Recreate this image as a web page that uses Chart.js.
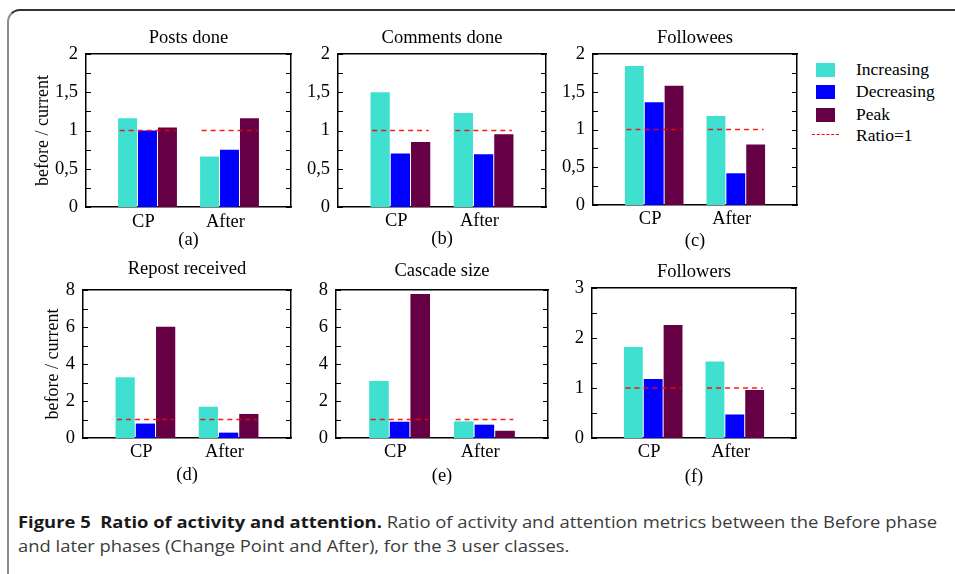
<!DOCTYPE html>
<html>
<head>
<meta charset="utf-8">
<script src="https://cdn.jsdelivr.net/npm/chart.js@4.4.1/dist/chart.umd.min.js"></script>
<style>
  body { margin: 0; background: #fff; }
  #fig { position: relative; width: 955px; height: 574px; overflow: hidden; font-family: "Liberation Serif", "Times New Roman", serif; }
  #frame { position: absolute; left: 7px; top: 9px; width: 1000px; height: 700px; border-top: 2px solid #333; border-left: 2px solid #8c8c8c; border-top-left-radius: 13px; }
  canvas { position: absolute; }
  .sw { position: absolute; width: 19px; height: 14px; }
  .lt { position: absolute; font-size: 17.5px; line-height: 20px; color: #000; white-space: nowrap; }
  .cap { position: absolute; left: 18px; font-family: "Open Sans", "Noto Sans", sans-serif; font-size: 16px; color: #3b3b3b; white-space: nowrap; transform-origin: 0 50%; line-height: 20px; }
  .cap b { color: #1a1a1a; }
</style>
</head>
<body>
<div id="fig">
  <div id="frame"></div>
  <div id="legend"></div>
  <div class="cap" id="cap1" style="top:512px"><b>Figure 5&nbsp; Ratio of activity and attention.</b> Ratio of activity and attention metrics between the Before phase</div>
  <div class="cap" id="cap2" style="top:536px">and later phases (Change Point and After), for the 3 user classes.</div>
</div>
<script>
const phases = ["CP", "After"];
const classNames = ["Increasing", "Decreasing", "Peak"];
const classColors = ["#40e0d0", "#0000ff", "#660044"];
const ratioLabel = "Ratio=1";
const ratioLevel = 1;

// before / current, one value per phase
const postsInc = [1.16, 0.66];
const postsDec = [1.0, 0.75];
const postsPeak = [1.04, 1.16];

const commentsInc = [1.5, 1.23];
const commentsDec = [0.7, 0.69];
const commentsPeak = [0.85, 0.95];

const followeesInc = [1.84, 1.18];
const followeesDec = [1.36, 0.42];
const followeesPeak = [1.58, 0.8];

const repostInc = [3.28, 1.69];
const repostDec = [0.78, 0.29];
const repostPeak = [6.02, 1.3];

const cascadeInc = [3.08, 0.9];
const cascadeDec = [0.88, 0.72];
const cascadePeak = [7.78, 0.39];

const followersInc = [1.82, 1.53];
const followersDec = [1.18, 0.47];
const followersPeak = [2.26, 0.96];

const panelTitles = ["Posts done", "Comments done", "Followees", "Repost received", "Cascade size", "Followers"];
const panelTags = ["(a)", "(b)", "(c)", "(d)", "(e)", "(f)"];
const yMax = [2, 2, 2, 8, 8, 3];
const yStep = [0.25, 0.25, 0.25, 1, 1, 0.5];
const yMajor = [0.5, 0.5, 0.5, 2, 2, 1];
const yTitle = "before / current";

const panelData = [
  [postsInc, postsDec, postsPeak],
  [commentsInc, commentsDec, commentsPeak],
  [followeesInc, followeesDec, followeesPeak],
  [repostInc, repostDec, repostPeak],
  [cascadeInc, cascadeDec, cascadePeak],
  [followersInc, followersDec, followersPeak],
];

// page layout of each panel (plot box, title / tick / tag centres)
const boxes = [
  { l: 86, r: 291, t: 54, b: 207, titleY: 38, tickY: 222, tagY: 239.5, yTitleX: 43 },
  { l: 338, r: 546, t: 54, b: 207, titleY: 38, tickY: 221.5, tagY: 239 },
  { l: 593, r: 797, t: 54, b: 205, titleY: 38, tickY: 219.5, tagY: 241 },
  { l: 83, r: 291, t: 290, b: 438, titleY: 269, tickY: 452.5, tagY: 475, yTitleX: 53 },
  { l: 336, r: 548, t: 290, b: 438, titleY: 271, tickY: 452.5, tagY: 475.5 },
  { l: 592, r: 796, t: 288, b: 438, titleY: 272, tickY: 452.5, tagY: 476.5 },
];

const font = { family: "'Liberation Serif', 'Times New Roman', serif", size: 18.5 };
const lineH = font.size * 1.2;
const titleOff = lineH / 2 + 4;

const innerTicks = {
  id: "innerTicks",
  afterDatasetsDraw(chart) {
    const { ctx, chartArea: a, scales } = chart;
    const y = scales.y;
    ctx.save();
    ctx.strokeStyle = "#000";
    ctx.lineWidth = 1.2;
    ctx.beginPath();
    y.ticks.forEach((t) => {
      const py = Math.round(y.getPixelForValue(t.value)) + 0.5;
      ctx.moveTo(a.left, py);
      ctx.lineTo(a.left + 5, py);
      ctx.moveTo(a.right - 5, py);
      ctx.lineTo(a.right, py);
    });
    ctx.stroke();
    ctx.restore();
  },
};

function isMajor(v, m) {
  return Math.abs(v / m - Math.round(v / m)) < 1e-6;
}

function ratioPoints() {
  const pts = [];
  phases.forEach((p, k) => {
    if (k > 0) pts.push({ x: k - 0.5, y: null });
    pts.push({ x: k - 0.34, y: ratioLevel });
    pts.push({ x: k + 0.34, y: ratioLevel });
  });
  return pts;
}

function makePanel(i) {
  const box = boxes[i];
  const left = Math.round(box.yTitleX ? box.yTitleX - titleOff : box.l - 50);
  const top = Math.round(box.titleY - titleOff);
  const right = box.r + 8;
  const bottom = Math.round(box.tagY + titleOff);
  const canvas = document.createElement("canvas");
  canvas.width = right - left;
  canvas.height = bottom - top;
  canvas.style.left = left + "px";
  canvas.style.top = top + "px";
  document.getElementById("fig").appendChild(canvas);

  const datasets = [
    {
      type: "line",
      label: ratioLabel,
      data: ratioPoints(),
      borderColor: "rgba(255,0,0,0.9)",
      borderWidth: 1.5,
      borderDash: [5, 4],
      pointRadius: 0,
      spanGaps: false,
      order: 0,
    },
  ];
  classNames.forEach((name, c) => {
    datasets.push({
      type: "bar",
      label: name,
      data: panelData[i][c].map((v, k) => ({ x: k, y: v })),
      backgroundColor: classColors[c],
      borderWidth: 0,
      categoryPercentage: 0.73,
      barPercentage: 0.95,
      order: 1,
    });
  });

  const border = { display: true, color: "#000", width: 1.5 };
  const noGrid = { display: false, drawTicks: false, offset: false };

  new Chart(canvas, {
    data: { datasets },
    options: {
      responsive: false,
      animation: false,
      layout: { padding: 0 },
      plugins: { legend: { display: false }, tooltip: { enabled: false } },
      scales: {
        x: {
          type: "linear",
          position: "bottom",
          offset: false,
          min: -0.75,
          max: 1.75,
          grid: noGrid,
          border,
          afterBuildTicks: (s) => {
            s.ticks = phases.map((p, k) => ({ value: k - 0.05 }));
          },
          afterFit: (s) => {
            s.height = bottom - box.b;
          },
          ticks: {
            font,
            color: "#000",
            padding: box.tickY - box.b - lineH / 2,
            maxRotation: 0,
            autoSkip: false,
            callback: (v) => phases[Math.round(v)],
          },
          title: { display: true, text: panelTags[i], font, color: "#000", padding: { top: 0, bottom: 4 } },
        },
        xTop: {
          type: "linear",
          position: "top",
          grid: noGrid,
          border,
          ticks: { display: false },
          afterFit: (s) => {
            s.height = box.t - top;
          },
          title: { display: true, text: panelTitles[i], font, color: "#000", padding: { top: 4, bottom: 0 } },
        },
        y: {
          type: "linear",
          position: "left",
          min: 0,
          max: yMax[i],
          grid: noGrid,
          border,
          afterFit: (s) => {
            s.width = box.l - left;
          },
          ticks: {
            stepSize: yStep[i],
            font,
            color: "#000",
            padding: 8,
            autoSkip: false,
            callback: (v) => (isMajor(v, yMajor[i]) ? String(v).replace(".", ",") : ""),
          },
          title: { display: !!box.yTitleX, text: yTitle, font: { family: font.family, size: 18 }, color: "#000", padding: { top: 4, bottom: 0 } },
        },
        yRight: {
          type: "linear",
          position: "right",
          grid: noGrid,
          border,
          ticks: { display: false },
          afterFit: (s) => {
            s.width = right - box.r;
          },
        },
      },
    },
    plugins: [innerTicks],
  });
}

function makeLegend() {
  const leg = document.getElementById("legend");
  classNames.forEach((name, c) => {
    const cy = 70 + c * 22.3;
    const sw = document.createElement("div");
    sw.className = "sw";
    sw.style.left = "816px";
    sw.style.top = cy - 7 + "px";
    sw.style.background = classColors[c];
    leg.appendChild(sw);
    const tx = document.createElement("div");
    tx.className = "lt";
    tx.style.left = "856px";
    tx.style.top = cy - 11 + "px";
    tx.textContent = name;
    leg.appendChild(tx);
  });
  const ln = document.createElement("div");
  ln.style.cssText = "position:absolute;left:812px;top:134px;width:27px;height:0;border-top:1.5px dashed #ff0000;";
  leg.appendChild(ln);
  const tx = document.createElement("div");
  tx.className = "lt";
  tx.style.left = "856px";
  tx.style.top = "125px";
  tx.textContent = ratioLabel;
  leg.appendChild(tx);
}

function fitCaption() {
  const c1 = document.getElementById("cap1");
  const c2 = document.getElementById("cap2");
  const k = 919 / c1.getBoundingClientRect().width;
  c1.style.transform = "scaleX(" + k + ")";
  c2.style.transform = "scaleX(" + k + ")";
}

panelTitles.forEach((t, i) => makePanel(i));
makeLegend();
fitCaption();
</script>
</body>
</html>
